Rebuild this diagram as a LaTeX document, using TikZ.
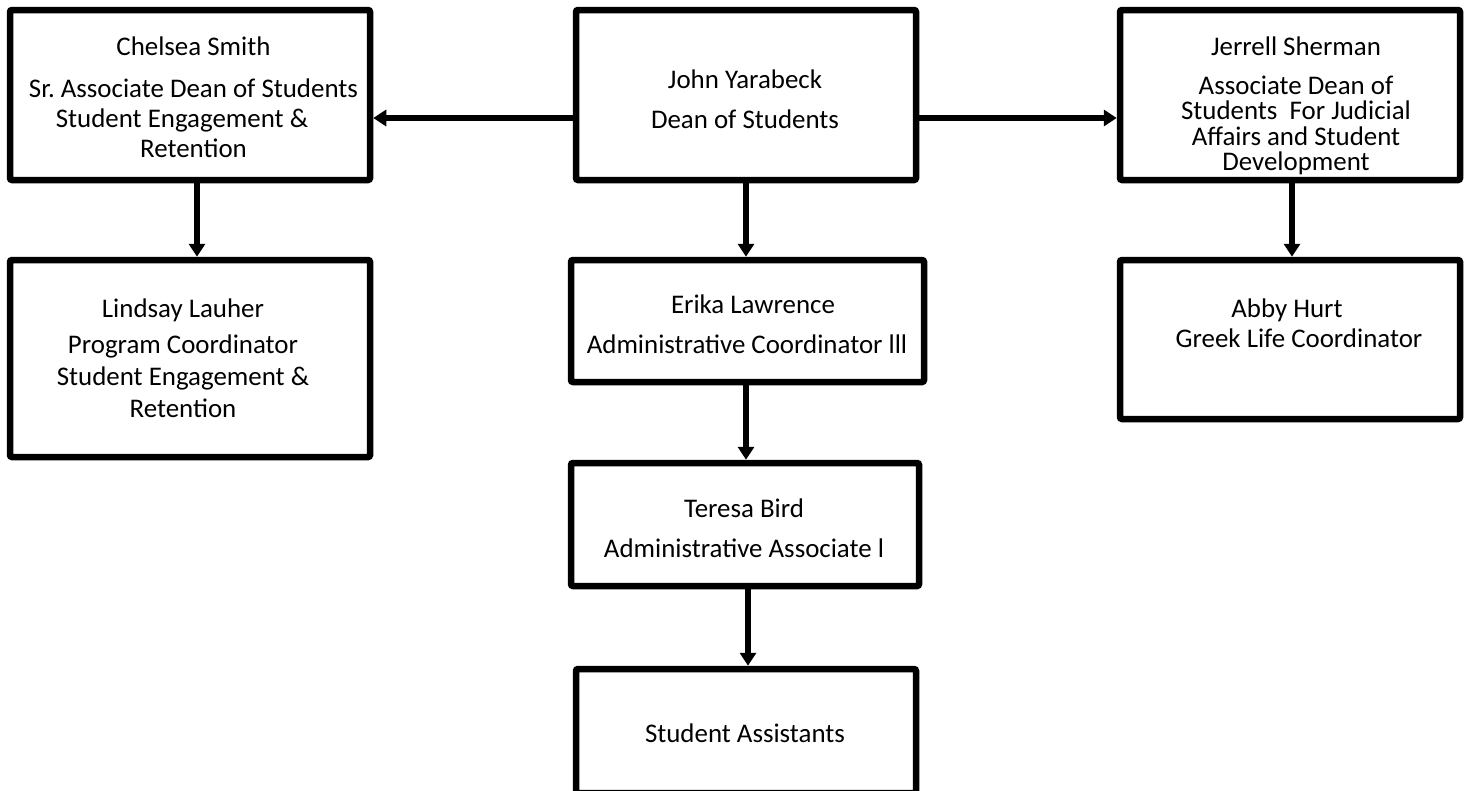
\documentclass[tikz,border=0pt]{standalone}
\usepackage{fontspec}
\setmainfont{Carlito}
\usetikzlibrary{arrows.meta}
\frenchspacing
\begin{document}
\begin{tikzpicture}[x=1pt,y=-1pt,
  box/.style={draw=black,line width=6.5pt,rounded corners=2pt,inner sep=0pt,fill=white},
  arr/.style={draw=black,line width=5.5pt,-{Triangle[length=13pt,width=16pt]}},
  txt/.style={align=center,inner sep=0pt,anchor=base},
  fA/.style={font=\fontsize{26.9}{30}\selectfont},
  fB/.style={font=\fontsize{26.9}{40}\selectfont},
  fC/.style={font=\fontsize{26.9}{25.5}\selectfont},
  fD/.style={font=\fontsize{26.9}{32}\selectfont}]
\useasboundingbox (0,0) rectangle (1470,790);
\clip (0,0) rectangle (1470,790);
\fill[white] (0,0) rectangle (1470,790);

% boxes
\node[box,minimum width=360,minimum height=170] (chelsea) at (190,95) {};
\node[box,minimum width=340,minimum height=170] (john) at (746,95) {};
\node[box,minimum width=340,minimum height=170] (jerrell) at (1290,95) {};
\node[box,minimum width=360,minimum height=197] (lindsay) at (190,358.5) {};
\node[box,minimum width=353,minimum height=122] (erika) at (747.5,321) {};
\node[box,minimum width=340,minimum height=159] (abby) at (1290,339.5) {};
\node[box,minimum width=348,minimum height=123] (teresa) at (745,524.5) {};
\node[box,minimum width=340,minimum height=124] (students) at (746,731) {};

% texts (anchor = baseline of the last line)
\node[txt,fA] (chelseaT) at (193.5,157) {Chelsea Smith\\[12pt]Sr. Associate Dean of Students\\Student Engagement \&\hbox to 23pt{}\\Retention};
\node[txt,fB] (johnT) at (745,128) {John Yarabeck\\Dean of Students};
\node[txt,fC] (jerrellT) at (1296,170.5) {Jerrell Sherman\\[13.5pt]Associate Dean of\\Students\ \ For Judicial\\Affairs and Student\\Development};
\node[txt,fD] (lindsayT) at (183,417) {Lindsay Lauher\\[4pt]Program Coordinator\\Student Engagement \&\\Retention};
\node[txt,fB] (erikaT) at (747,353) {\hspace*{12pt}Erika Lawrence\\Administrative Coordinator lll};
\node[txt,fB] (teresaT) at (744,557) {Teresa Bird\\Administrative Associate l};
\node[txt,fA] (abbyT) at (1287,347) {Abby Hurt\\\hspace*{24pt}Greek Life Coordinator};
\node[txt,fA] (studentsT) at (745,742) {Student Assistants};

% connectors
\coordinate (hl) at (0,118);
\draw[arr] (john.west |- hl) -- (chelsea.east |- hl);
\draw[arr] (john.east |- hl) -- (jerrell.west |- hl);
\draw[arr] ([xshift=7pt]chelsea.south) -- ([xshift=7pt]lindsay.north);
\draw[arr] (john.south) -- (john.south |- erika.north);
\draw[arr] ([xshift=2pt]jerrell.south) -- ([xshift=2pt]abby.north);
\draw[arr] ([xshift=-1.5pt]erika.south) -- ([xshift=-1.5pt]erika.south |- teresa.north);
\draw[arr] ([xshift=3pt]teresa.south) -- ([xshift=3pt]teresa.south |- students.north);
\end{tikzpicture}
\end{document}
